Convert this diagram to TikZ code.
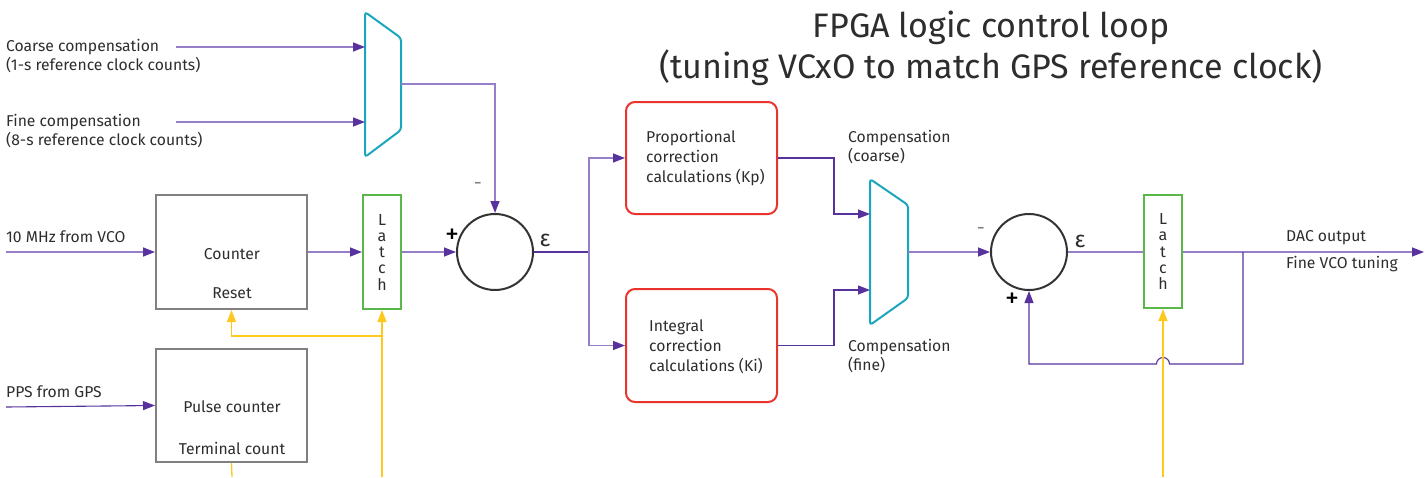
\documentclass[tikz,border=0pt]{standalone}
\usepackage{fontspec}
\setmainfont{Fira Sans}
\usepackage{xcolor}
\usetikzlibrary{arrows.meta}

\definecolor{flowpurple}{RGB}{150,126,200}
\definecolor{darkpurple}{RGB}{88,50,156}
\definecolor{syncyellow}{RGB}{255,200,30}
\definecolor{boxgray}{RGB}{128,128,128}
\definecolor{latchgreen}{RGB}{90,184,72}
\definecolor{calcred}{RGB}{232,52,43}
\definecolor{muxcyan}{RGB}{26,167,189}
\definecolor{sumgray}{RGB}{51,51,51}
\definecolor{textgray}{RGB}{45,45,45}

\tikzset{
  wire/.style={flowpurple, line width=1.5pt},
  darkwire/.style={darkpurple, line width=1.1pt},
  flow/.style={wire, -{Triangle[length=12pt,width=9pt,color=darkpurple]}},
  darkflow/.style={darkwire, -{Triangle[length=12pt,width=9pt,color=darkpurple]}},
  syncwire/.style={syncyellow, line width=1.3pt},
  sync/.style={syncwire, -{Triangle[length=12pt,width=9pt]}},
  countbox/.style={draw=boxgray, line width=2pt, minimum width=151pt, minimum height=114pt, inner sep=0pt},
  latchbox/.style={draw=latchgreen, line width=2pt, minimum width=38pt, minimum height=114pt, inner sep=0pt, align=center, text=textgray, font=\fontsize{16}{16.25}\selectfont},
  calcbox/.style={draw=calcred, line width=2pt, rounded corners=9pt, minimum width=151pt, minimum height=112pt, inner sep=0pt},
  sumnode/.style={circle, draw=sumgray, line width=2pt, minimum size=76pt, inner sep=0pt},
  muxshape/.style={draw=muxcyan, line width=2pt, rounded corners=3pt},
  lbl/.style={font=\fontsize{15.7}{19.8}\selectfont, inner sep=0pt, text=textgray, align=left},
  epslbl/.style={font=\fontsize{23}{23}\selectfont, inner sep=0pt, text=textgray},
  signlbl/.style={font=\fontsize{28}{28}\selectfont, inner sep=0pt, text=black},
  dashlbl/.style={font=\fontsize{20}{20}\selectfont, inner sep=0pt, text=gray}
}

\begin{document}
\begin{tikzpicture}[x=1pt, y=-1pt]

\useasboundingbox (0,0) rectangle (1428,477);

\node[font=\fontsize{34}{41}\selectfont, inner sep=0pt, text=textgray, align=center] (title) at (991,48) {FPGA logic control loop\\(tuning VCxO to match GPS reference clock)};


% counters and first comparison
\begin{scope}
{
\node[countbox] (counter) at (231.5,252) {};
\node[lbl] (counterlbl) at (232,254) {Counter};
\node[lbl] (resetlbl) at (232,293) {Reset};

\node[countbox, minimum height=113pt] (pulse) at (231.5,405.5) {};
\node[lbl] (pulselbl) at (232,407) {Pulse counter};
\node[lbl] (terminallbl) at (232,448) {Terminal count};

\node[latchbox] (latch1) at (382,252) {L\\a\\t\\c\\h};

\node[sumnode] (sum1) at (495,252) {};

\draw[muxshape] (365,12) -- (401,38) -- (401,130) -- (365,157) -- cycle;
\coordinate (mux1in1) at (365,47);
\coordinate (mux1in2) at (365,122);
\coordinate (mux1out) at (401,84);

\node[lbl, anchor=west] (coarselbl) at (6,56) {Coarse compensation\\(1-s reference clock counts)};
\node[lbl, anchor=west] (finelbl) at (6,131) {Fine compensation\\(8-s reference clock counts)};
\node[lbl, anchor=west] (vcolbl) at (6,237) {10 MHz from VCO};
\node[lbl, anchor=west] (ppslbl) at (6,392) {PPS from GPS};

\coordinate (coarsein) at (176,47);
\coordinate (finein) at (176,122);
\coordinate (vcoin) at (6,252);
\coordinate (ppsin) at (6,407);

\draw[flow] (coarsein) -- (mux1in1);
\draw[flow] (finein) -- (mux1in2);
\draw[flow] (mux1out) -| (sum1.north);
\draw[flow] (vcoin) -- (counter.west);
\draw[darkflow] (ppsin) -- (pulse.west);
\draw[flow] (counter.east) -- (latch1.west);
\draw[flow] (latch1.east) -- (sum1.west);

\node[dashlbl] (minus1) at (478,186) {-};
\node[signlbl] (plus1) at (452,236) {+};
\node[epslbl] (eps1) at (545,240) {ε};

% timing
\coordinate (synctap) at (382,477);
\coordinate (resetjoin) at (382,336);
\coordinate (pulsetap) at (232,477);
\draw[sync] (synctap) -- (latch1.south);
\draw[sync] (resetjoin) -| (counter.south);
\draw[syncwire] (pulse.south) -- (pulsetap);
}
\end{scope}


% correction calculations
\begin{scope}
{
\node[calcbox] (prop) at (701.5,158) {};
\node[lbl, anchor=west] (proplbl) at (646,158) {Proportional\\correction\\calculations (Kp)};

\node[calcbox, minimum height=113pt] (integ) at (701.5,345.5) {};
\node[lbl, anchor=west] (integlbl) at (649,347) {Integral\\correction\\calculations (Ki)};

\coordinate (split) at (589,252);
\draw[darkwire] (sum1.east) -- (split);
\draw[flow] (split) |- (prop.west);
\draw[flow] (split) |- (integ.west);

\draw[muxshape] (870,179) -- (908,205) -- (908,298) -- (870,325) -- cycle;
\coordinate (mux2in1) at (870,214);
\coordinate (mux2in2) at (870,290);
\coordinate (mux2out) at (908,252);

\draw[darkflow] (prop.east) -- ++(56,0) |- (mux2in1);
\draw[darkflow] (integ.east) -- ++(56,0) |- (mux2in2);

\node[lbl, anchor=west] (coarsecomp) at (848,147) {Compensation\\(coarse)};
\node[lbl, anchor=west] (finecomp) at (848,356) {Compensation\\(fine)};
}
\end{scope}


% output stage
\begin{scope}
{
\node[sumnode] (sum2) at (1029,252) {};
\node[latchbox, minimum height=113pt] (latch2) at (1163,251.5) {L\\a\\t\\c\\h};

\draw[flow] (mux2out) -- (sum2.west);
\draw[wire] (sum2.east) -- (sum2.east -| latch2.west);

\coordinate (dacout) at (1424,252);
\coordinate (fbtap) at (1243,252);
\draw[flow] (latch2.east |- dacout) -- (dacout);
\draw[darkflow] (fbtap) -- ++(0,112) -- ++(-73.5,0) arc[start angle=0, end angle=-180, radius=6.5] -| (sum2.south);

\node[dashlbl] (minus2) at (981,231) {-};
\node[signlbl] (plus2) at (1012,300) {+};
\node[epslbl] (eps2) at (1080,241) {ε};

\node[lbl, anchor=west] (daclbl) at (1286,238) {DAC output};
\node[lbl, anchor=west] (tunelbl) at (1286,264) {Fine VCO tuning};

\coordinate (sync2tap) at (1163,477);
\draw[sync] (sync2tap) -- (latch2.south);
}
\end{scope}

\end{tikzpicture}
\end{document}
